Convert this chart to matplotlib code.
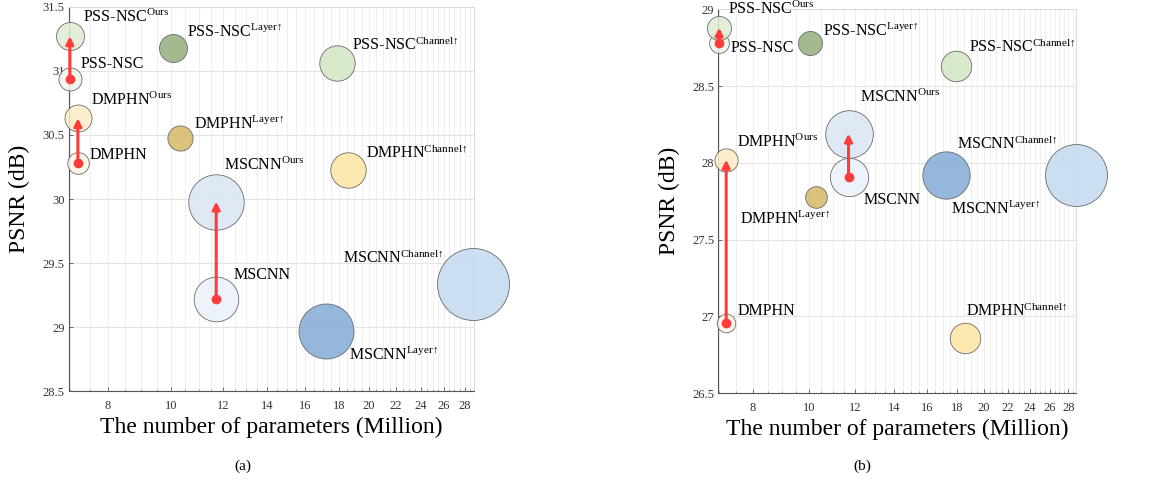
import matplotlib
matplotlib.use('Agg')
import matplotlib.pyplot as plt
from matplotlib.colors import to_rgba
from matplotlib.ticker import MultipleLocator, NullFormatter

plt.rcParams['font.family'] = ['Liberation Serif', 'DejaVu Serif']
plt.rcParams['mathtext.fontset'] = 'custom'
plt.rcParams['mathtext.rm'] = 'Liberation Serif'
plt.rcParams['mathtext.it'] = 'Liberation Serif:italic'

# data: 3 models x (base, ours, layer-up, channel-up)
models = ['PSS-NSC'] * 4 + ['DMPHN'] * 4 + ['MSCNN'] * 4
variants = ['', 'Ours', 'Layer↑', 'Channel↑'] * 3
params = [7.0, 7.0, 10.05, 17.9,
          7.2, 7.2, 10.3, 18.6,
          11.7, 11.7, 17.2, 28.8]
bubble = [11.5, 14.0, 14.0, 17.7,
          10.8, 13.5, 12.6, 17.7,
          22.3, 27.7, 27.5, 36.0]
psnr_a = [30.94, 31.27, 31.18, 31.06,
          30.28, 30.63, 30.48, 30.23,
          29.22, 29.98, 28.97, 29.34]
psnr_b = [28.78, 28.88, 28.78, 28.63,
          26.96, 28.02, 27.78, 26.86,
          27.91, 28.19, 27.92, 27.92]
xticks = [8, 10, 12, 14, 16, 18, 20, 22, 24, 26, 28]
yticks_a = [28.5, 29, 29.5, 30, 30.5, 31, 31.5]
yticks_b = [26.5, 27, 27.5, 28, 28.5, 29]

colors = ['#edf5e8', '#deecd3', '#93ae7e', '#d2e6c3',
          '#fdf5e4', '#fdedc6', '#d5b866', '#fde6a2',
          '#eaf2fa', '#d9e6f4', '#83abd5', '#c4d9ef']
RED = '#ff3b3b'

# label offsets in pixels (dx, dy, ha)
offs_a = [(11, 11, 'left'), (13, 14, 'left'), (14, 11, 'left'), (15, 13, 'left'),
          (12, 4, 'left'), (13, 13, 'left'), (14, 9, 'left'), (18, 12, 'left'),
          (17, 20, 'left'), (8, 32, 'left'), (23, -29, 'left'), (-29, 21, 'right')]
offs_b = [(11, -9, 'left'), (9, 14, 'left'), (13, 7, 'left'), (13, 14, 'left'),
          (11, 8, 'left'), (11, 13, 'left'), (14, -27, 'right'), (1, 22, 'left'),
          (15, -27, 'left'), (11, 32, 'left'), (5, -39, 'left'), (-18, 26, 'right')]


def draw_panel(ax, psnr, yticks, offs, scale):
    for i in range(len(params)):
        r = bubble[i] * scale
        ax.scatter(params[i], psnr[i], s=(2 * r * 0.72) ** 2,
                   facecolor=to_rgba(colors[i], 0.85), edgecolor='#6b6b6b',
                   linewidth=0.6, zorder=3, clip_on=False)
        label = models[i]
        if variants[i]:
            label += r'$^{\mathrm{' + variants[i] + '}}$'
        dx, dy, ha = offs[i]
        ax.annotate(label, (params[i], psnr[i]), xytext=(dx, dy),
                    textcoords='offset pixels', ha=ha, va='baseline',
                    fontsize=11.5, zorder=5, annotation_clip=False)

    # arrows from base model to ours
    for i in range(0, len(params), 4):
        ax.annotate('', xy=(params[i + 1], psnr[i + 1]), xytext=(params[i], psnr[i]),
                    arrowprops=dict(arrowstyle='-|>', color=RED, lw=2.2,
                                    mutation_scale=11, shrinkA=0, shrinkB=0),
                    zorder=6, annotation_clip=False)
        ax.plot(params[i], psnr[i], 'o', color=RED, ms=6, zorder=7, clip_on=False)

    ax.set_xscale('log')
    ax.set_xlim(6.98, 28.9)
    ax.set_ylim(yticks[0], yticks[-1])
    ax.set_xticks(xticks, labels=[str(t) for t in xticks])
    ax.xaxis.set_minor_locator(MultipleLocator(0.5))
    ax.xaxis.set_minor_formatter(NullFormatter())
    ax.set_yticks(yticks, labels=['%g' % t for t in yticks])

    ax.grid(which='major', axis='y', color='#e4e4e4', lw=0.8)
    ax.grid(which='both', axis='x', color='#ececec', lw=0.6)
    ax.set_axisbelow(True)
    for s in ['left', 'bottom']:
        ax.spines[s].set_color('#555555')
        ax.spines[s].set_linewidth(0.8)
    for s in ['top', 'right']:
        ax.spines[s].set_color('#dcdcdc')
        ax.spines[s].set_linewidth(0.8)
    ax.tick_params(which='major', direction='in', length=3, width=0.6,
                   colors='#555555', labelcolor='#333333', labelsize=9)
    ax.tick_params(which='minor', direction='in', length=1.5, width=0.5, colors='#777777')
    ax.tick_params(axis='x', pad=6)
    ax.tick_params(axis='y', pad=3)
    ax.set_xlabel('The number of parameters (Million)', fontsize=17, labelpad=4)
    ax.set_ylabel('PSNR (dB)', fontsize=17, labelpad=9)


fig = plt.figure(figsize=(11.7, 4.86), dpi=100)
ax_a = fig.add_axes([0.059, 0.195, 0.346, 0.791])
ax_b = fig.add_axes([0.614, 0.191, 0.306, 0.790])

draw_panel(ax_a, psnr_a, yticks_a, offs_a, 1.0)
draw_panel(ax_b, psnr_b, yticks_b, offs_b, 0.86)

fig.text(0.208, 0.04, '(a)', ha='center', va='center', fontsize=11)
fig.text(0.737, 0.04, '(b)', ha='center', va='center', fontsize=11)

fig.savefig('out.png', dpi=100)
